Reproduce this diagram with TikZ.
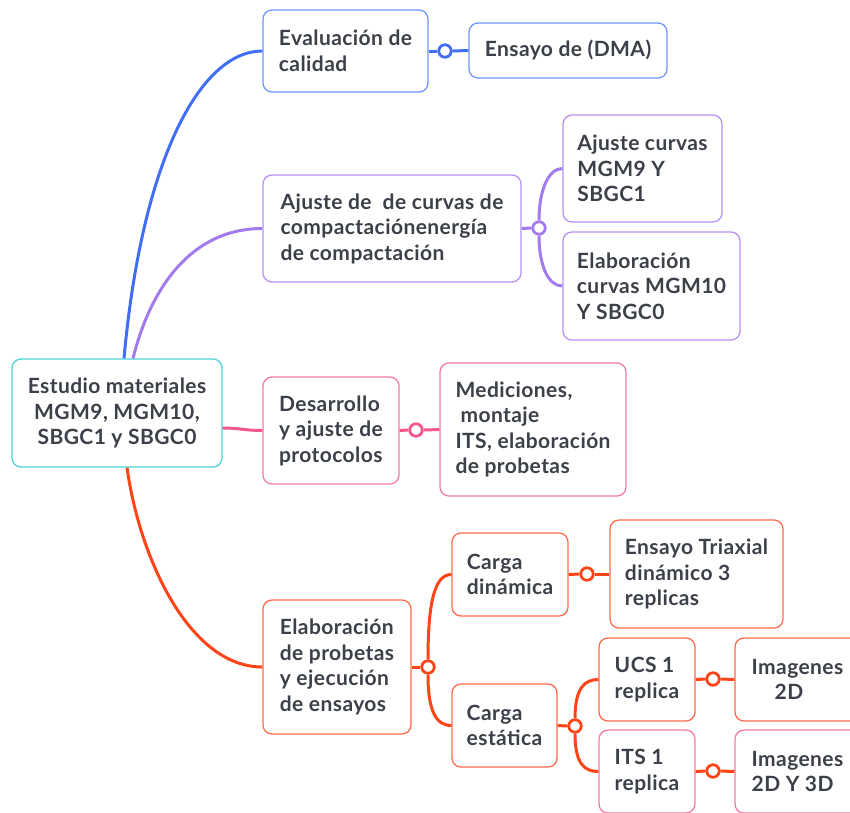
\documentclass[tikz,border=0pt]{standalone}
\usepackage{fontspec}
\setmainfont{Lato}[LetterSpace=2]
\usetikzlibrary{calc}

\definecolor{txt}{HTML}{3C4048}
\definecolor{rootbd}{HTML}{4CD2DA}
\definecolor{blueln}{HTML}{426EF5}
\definecolor{bluebd}{HTML}{6E96F7}
\definecolor{purpln}{HTML}{A27BED}
\definecolor{purpbd}{HTML}{B792F2}
\definecolor{pinkln}{HTML}{F2588D}
\definecolor{pinkbd}{HTML}{F47BA3}
\definecolor{redln}{HTML}{FF4518}
\definecolor{redbd}{HTML}{FF6A4C}

\tikzset{
  box/.style={draw, fill=white, rounded corners=9pt, line width=1.3pt, text=txt,
    font=\fontsize{21}{25.5}\selectfont\bfseries, align=left, inner xsep=14pt, inner ysep=0pt},
  knot/.style={circle, draw, fill=white, line width=2.8pt, inner sep=0pt, minimum size=12.5pt},
  branch/.style={line width=3pt}
}

\begin{document}
\begin{tikzpicture}[x=1pt,y=-1pt]
  \useasboundingbox (0,0) rectangle (850,812);
  \clip (0,0) rectangle (850,812);

  % topics
  \node[box, draw=rootbd, align=center, minimum width=210pt, minimum height=108pt] (root) at (117,413)
    {Estudio materiales\\MGM9, MGM10,\\SBGC1 y SBGC0};
  \node[box, draw=bluebd, minimum width=165pt, minimum height=82pt] (eval) at (345.5,51)
    {Evaluación de\\calidad};
  \node[box, draw=bluebd, minimum width=198pt, minimum height=55pt] (dma) at (568,50.5)
    {Ensayo de (DMA)};
  \node[box, draw=purpbd, minimum width=258pt, minimum height=107pt] (ajus) at (392,228.5)
    {Ajuste de\ \ de curvas de\\compactaciónenergía\\de compactación};
  \node[box, draw=purpbd, minimum width=159pt, minimum height=107pt] (aj1) at (642.5,168.5)
    {Ajuste curvas\\MGM9 Y\\SBGC1};
  \node[box, draw=purpbd, minimum width=177pt, minimum height=108pt] (aj2) at (651.5,286)
    {Elaboración\\curvas MGM10\\Y SBGC0};
  \node[box, draw=pinkbd, minimum width=136pt, minimum height=107pt] (desa) at (331,430.5)
    {Desarrollo\\y ajuste de\\protocolos};
  \node[box, draw=pinkbd, minimum width=186pt, minimum height=133pt] (medi) at (533,429.5)
    {Mediciones,\\\hspace*{5pt}montaje\\ITS, elaboración\\de probetas};
  \node[box, draw=redbd, minimum width=148pt, minimum height=134pt] (elab) at (337,667)
    {Elaboración\\de probetas\\y ejecución\\de ensayos};
  \node[box, draw=redbd, minimum width=116pt, minimum height=83pt] (cdin) at (510,574.5)
    {Carga\\dinámica};
  \node[box, draw=redbd, minimum width=173pt, minimum height=108pt] (triax) at (696.5,574)
    {Ensayo Triaxial\\dinámico 3\\replicas};
  \node[box, draw=redbd, minimum width=105pt, minimum height=83pt] (cest) at (504.5,725.5)
    {Carga\\estática};
  \node[box, draw=redbd, minimum width=96pt, minimum height=83pt] (ucs) at (647,679.5)
    {UCS 1\\replica};
  \node[box, draw=redbd, minimum width=125pt, minimum height=83pt] (img1) at (797.5,679.5)
    {Imagenes\\\hspace*{23pt}2D};
  \node[box, draw=pinkbd, minimum width=96pt, minimum height=83pt] (its) at (647,771.5)
    {ITS 1\\replica};
  \node[box, draw=pinkbd, minimum width=125pt, minimum height=83pt] (img2) at (797.5,771.5)
    {Imagenes\\2D Y 3D};

  % knots
  \node[knot, draw=blueln] (k1) at (445,51) {};
  \node[knot, draw=purpln] (k2) at (539,228) {};
  \node[knot, draw=pinkln] (k3) at (416,430) {};
  \node[knot, draw=redln] (k4) at (428,667) {};
  \node[knot, draw=redln] (k5) at (587,574) {};
  \node[knot, draw=redln] (k6) at (575,726) {};
  \node[knot, draw=redln] (k7) at (713,679) {};
  \node[knot, draw=redln] (k8) at (713,771) {};

  % blue branch
  \draw[branch, blueln] ([xshift=7pt]root.north) .. controls (142,160) and (200,51) .. (eval.west);
  \draw[branch, blueln] (eval.east) -- (k1.west);
  \draw[branch, blueln] (k1.east) -- (dma.west);

  % purple branch
  \draw[branch, purpln] ([xshift=16pt]root.north) .. controls (150,290) and (190,228.5) .. (ajus.west);
  \draw[branch, purpln] (ajus.east) -- (k2.west);
  \draw[branch, purpln] (k2.north) .. controls +(0,-30) and +(-14,0) .. (aj1.west);
  \draw[branch, purpln] (k2.south) .. controls +(0,30) and +(-14,0) .. (aj2.west);

  % pink branch
  \draw[branch, pinkln] ([yshift=-15pt]root.east) .. controls (240,428) and (245,430.5) .. (desa.west);
  \draw[branch, pinkln] (desa.east) -- (k3.west);
  \draw[branch, pinkln] (k3.east) -- (medi.west);

  % red branch
  \draw[branch, redln] ([xshift=10pt]root.south) .. controls (140,560) and (190,667) .. (elab.west);
  \draw[branch, redln] (elab.east) -- (k4.west);
  \draw[branch, redln] (k4.north) .. controls +(0,-60) and +(-16,0) .. (cdin.west);
  \draw[branch, redln] (k4.south) .. controls +(0,35) and +(-16,0) .. (cest.west);
  \draw[branch, redln] (cdin.east) -- (k5.west);
  \draw[branch, redln] (k5.east) -- (triax.west);
  \draw[branch, redln] (cest.east) -- (k6.west);
  \draw[branch, redln] (k6.north) .. controls +(0,-30) and +(-14,0) .. (ucs.west);
  \draw[branch, redln] (k6.south) .. controls +(0,30) and +(-14,0) .. (its.west);
  \draw[branch, redln] (ucs.east) -- (k7.west);
  \draw[branch, redln] (k7.east) -- (img1.west);
  \draw[branch, redln] (its.east) -- (k8.west);
  \draw[branch, redln] (k8.east) -- (img2.west);
\end{tikzpicture}
\end{document}
